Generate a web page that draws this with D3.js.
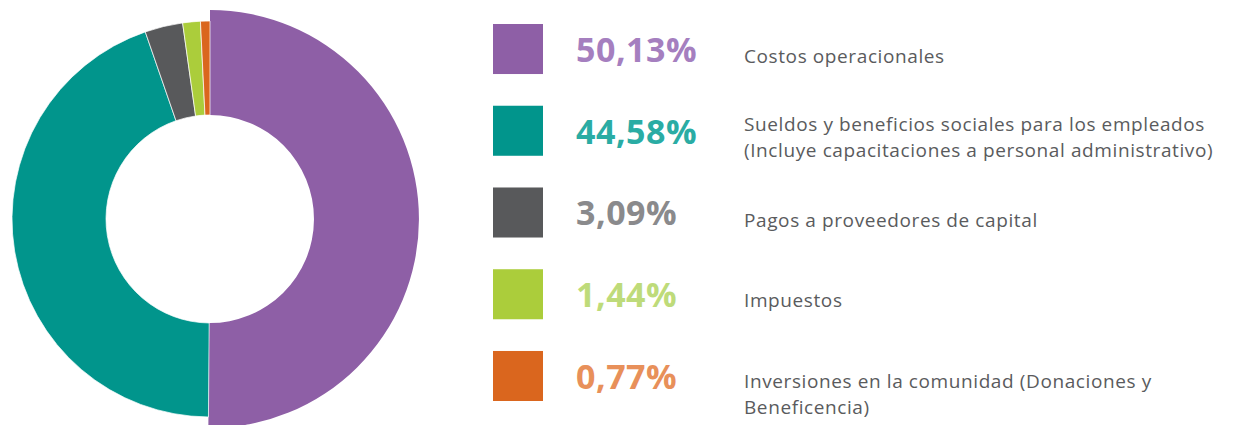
<!DOCTYPE html>
<html>
<head>
<meta charset="utf-8">
<script src="https://cdn.jsdelivr.net/npm/d3@7"></script>
<style>
  html, body { margin: 0; padding: 0; background: #fff; }
  svg { display: block; }
</style>
</head>
<body>
<div id="chart"></div>
<script>
// data
var categories = ["Costos operacionales", "Sueldos", "Pagos", "Impuestos", "Inversiones"];
var values = [50.13, 44.58, 3.09, 1.44, 0.77];
var descriptions = [
  ["Costos operacionales"],
  ["Sueldos y beneficios sociales para los empleados", "(Incluye capacitaciones a personal administrativo)"],
  ["Pagos a proveedores de capital"],
  ["Impuestos"],
  ["Inversiones en la comunidad (Donaciones y", "Beneficencia)"]
];
var sliceColors = ["#8e5fa6", "#01958c", "#58595b", "#abcd3b", "#da661e"];
var textColors = ["#a57fbf", "#2aaca4", "#8a8a8c", "#bedb7a", "#e8905a"];

var W = 1237, H = 425;
var cx = 210, cy = 219, rIn = 104, rOut = 198, rBig = 209;

var svg = d3.select("#chart").append("svg")
  .attr("width", W)
  .attr("height", H);

var pie = d3.pie().sort(null).value(function(d) { return d; });
var arcs = pie(values);

// first slice sticks out a bit further than the rest
var arc = d3.arc()
  .innerRadius(rIn)
  .outerRadius(function(d) { return d.index == 0 ? rBig : rOut; });

var g = svg.append("g").attr("transform", "translate(" + cx + "," + cy + ")");

g.selectAll("path.slice")
  .data(arcs)
  .enter().append("path")
  .attr("class", "slice")
  .attr("d", arc)
  .attr("fill", function(d, i) { return sliceColors[i]; })
  .attr("stroke", function(d, i) { return i == 0 ? "none" : "#fff"; })
  .attr("stroke-width", 0.7);

// legend
var y = d3.scaleBand()
  .domain(categories)
  .range([24, 401])
  .paddingInner(0.388)
  .paddingOuter(0);

var fmt = d3.format(".2f");
// first baseline of the description block, relative to row centre
var descShift = [14, 0.5, 15, 13, 12];
var lineH = 26;

var rows = svg.selectAll("g.row")
  .data(categories)
  .enter().append("g")
  .attr("class", "row")
  .attr("transform", function(d) { return "translate(0," + y(d) + ")"; });

rows.append("rect")
  .attr("x", 493)
  .attr("y", 0)
  .attr("width", 50)
  .attr("height", y.bandwidth())
  .attr("fill", function(d, i) { return sliceColors[i]; });

rows.append("text")
  .attr("x", 576)
  .attr("y", y.bandwidth() / 2 + 13)
  .attr("fill", function(d, i) { return textColors[i]; })
  .style("font-family", "'Open Sans', sans-serif")
  .style("font-weight", 700)
  .style("font-size", "34px")
  .style("letter-spacing", "0.5px")
  .text(function(d, i) { return fmt(values[i]).replace(".", ",") + "%"; });

rows.each(function(d, i) {
  d3.select(this).selectAll("text.desc")
    .data(descriptions[i])
    .enter().append("text")
    .attr("class", "desc")
    .attr("x", 744)
    .attr("y", function(l, j) { return y.bandwidth() / 2 + descShift[i] + j * lineH; })
    .attr("fill", "#5a5b5d")
    .style("font-family", "'Open Sans', sans-serif")
    .style("font-size", "19px")
    .style("letter-spacing", "0.6px")
    .text(function(l) { return l; });
});
</script>
</body>
</html>
